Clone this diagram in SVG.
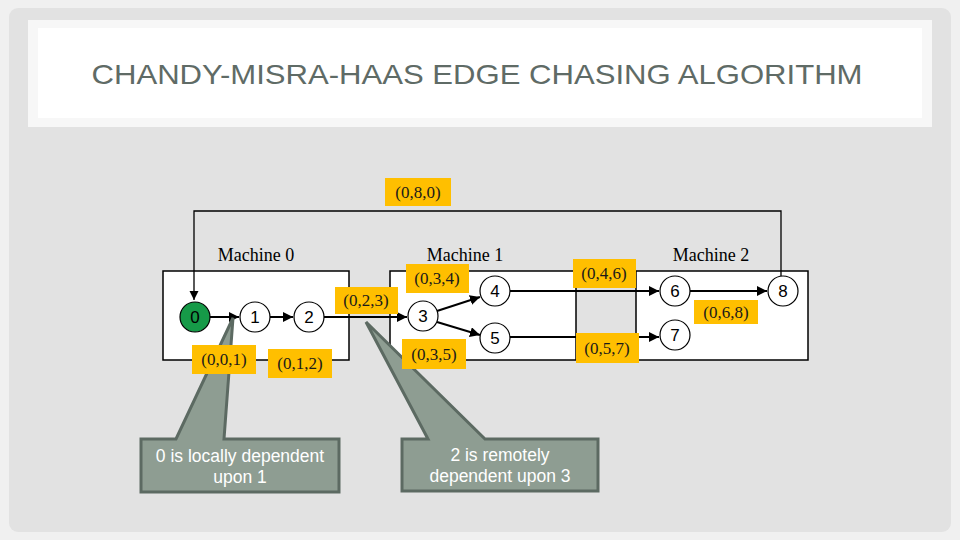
<svg xmlns="http://www.w3.org/2000/svg" width="960" height="540" viewBox="0 0 960 540">
<defs>
<marker id="ah" viewBox="0 0 10 10" refX="10" refY="5" markerWidth="5" markerHeight="5" orient="auto" markerUnits="strokeWidth">
<path d="M0,0 L10,5 L0,10 Z" fill="#000"/>
</marker>
<marker id="ah2" viewBox="0 0 10 10" refX="10" refY="5" markerWidth="7" markerHeight="7" orient="auto" markerUnits="strokeWidth">
<path d="M0,0 L10,5 L0,10 Z" fill="#000"/>
</marker>
</defs>
<style>
.box{fill:#fff;stroke:#000;stroke-width:1.5}
.node{fill:#fff;stroke:#000;stroke-width:1.2}
.num{font-family:"Liberation Sans",Arial,sans-serif;font-size:17px;fill:#000;text-anchor:middle}
.mach{font-family:"Liberation Serif","Times New Roman",serif;font-size:18px;fill:#000;text-anchor:middle}
.lbl rect{fill:#ffbf00}
.lbl text{font-family:"Liberation Serif","Times New Roman",serif;font-size:17px;fill:#1a1a1a;text-anchor:middle}
.edge{fill:none;stroke:#000;stroke-width:2;marker-end:url(#ah)}
.loop{fill:none;stroke:#000;stroke-width:1.3}
.callout path{fill:#8e9d92;stroke:#5c6a62;stroke-width:3;stroke-linejoin:miter}
.callout text{font-family:"Liberation Sans",Arial,sans-serif;font-size:17.5px;fill:#fff;text-anchor:middle}
</style>
<rect x="0" y="0" width="960" height="540" fill="#f0f0f0"/>
<rect x="9" y="8" width="942" height="524" rx="9" fill="#e2e2e2"/>
<rect x="28" y="20" width="904" height="107" fill="#f7f7f7"/>
<rect x="38" y="28" width="884" height="90" fill="#ffffff"/>
<text x="477" y="84" font-family="&quot;Liberation Sans&quot;,Arial,sans-serif" font-size="28" fill="#5f6b66" text-anchor="middle" textLength="771" lengthAdjust="spacingAndGlyphs">CHANDY-MISRA-HAAS EDGE CHASING ALGORITHM</text>

<g id="machine0">
<rect class="box" x="163" y="271" width="186" height="89"/>
<text class="mach" x="256" y="261">Machine 0</text>
</g>
<g id="machine1">
<rect class="box" x="390" y="271" width="186" height="89"/>
<text class="mach" x="465" y="261">Machine 1</text>
</g>
<g id="machine2">
<rect class="box" x="636" y="271" width="172" height="89"/>
<text class="mach" x="711" y="261">Machine 2</text>
</g>

<g id="connectors">
<path class="loop" d="M781,276 L781,211 L194,211 L194,300" marker-end="url(#ah2)"/>
<line class="edge" x1="210" y1="317" x2="239" y2="317"/>
<line class="edge" x1="270" y1="317" x2="293" y2="317"/>
<line class="edge" x1="324" y1="317" x2="407" y2="317"/>
<line class="edge" x1="437" y1="311" x2="480" y2="297"/>
<line class="edge" x1="437" y1="322" x2="480" y2="335"/>
<line class="edge" x1="510" y1="291" x2="659" y2="291"/>
<line class="edge" x1="510" y1="337" x2="659" y2="337"/>
<line class="edge" x1="690" y1="291" x2="767" y2="291"/>
</g>

<g id="n0"><circle cx="195" cy="317" r="15" fill="#169a48" stroke="#000" stroke-width="1.2"/><text class="num" x="195" y="323">0</text></g>
<g id="n1"><circle class="node" cx="255" cy="317" r="15"/><text class="num" x="255" y="323">1</text></g>
<g id="n2"><circle class="node" cx="309" cy="317" r="15"/><text class="num" x="309" y="323">2</text></g>
<g id="n3"><circle class="node" cx="423" cy="316" r="15"/><text class="num" x="423" y="322">3</text></g>
<g id="n4"><circle class="node" cx="495" cy="291" r="15"/><text class="num" x="495" y="297">4</text></g>
<g id="n5"><circle class="node" cx="495" cy="338" r="15"/><text class="num" x="495" y="344">5</text></g>
<g id="n6"><circle class="node" cx="675" cy="291" r="15"/><text class="num" x="675" y="297">6</text></g>
<g id="n7"><circle class="node" cx="675" cy="335" r="15"/><text class="num" x="675" y="341">7</text></g>
<g id="n8"><circle class="node" cx="783" cy="291" r="15"/><text class="num" x="783" y="297">8</text></g>

<g id="callout1" class="callout">
<path d="M141,439 L176,439 L233,318 L224,439 L339,439 L339,492 L141,492 Z"/>
<text x="240" y="462">0 is locally dependent</text>
<text x="240" y="483">upon 1</text>
</g>
<g id="callout2" class="callout">
<path d="M402,439 L428,439 L366,322 L485,439 L598,439 L598,491 L402,491 Z"/>
<text x="500" y="461">2 is remotely</text>
<text x="500" y="482">dependent upon 3</text>
</g>

<g id="l080" class="lbl"><rect x="385" y="178" width="66" height="28"/><text x="418" y="198">(0,8,0)</text></g>
<g id="l001" class="lbl"><rect x="192" y="345" width="64" height="29"/><text x="224" y="365">(0,0,1)</text></g>
<g id="l012" class="lbl"><rect x="268" y="349" width="64" height="29"/><text x="300" y="369">(0,1,2)</text></g>
<g id="l023" class="lbl"><rect x="335" y="287" width="63" height="27"/><text x="366" y="306">(0,2,3)</text></g>
<g id="l034" class="lbl"><rect x="406" y="264" width="63" height="29"/><text x="437" y="284">(0,3,4)</text></g>
<g id="l035" class="lbl"><rect x="402" y="339" width="64" height="30"/><text x="434" y="360">(0,3,5)</text></g>
<g id="l046" class="lbl"><rect x="573" y="259" width="63" height="29"/><text x="604" y="279">(0,4,6)</text></g>
<g id="l057" class="lbl"><rect x="576" y="333" width="63" height="30"/><text x="607" y="354">(0,5,7)</text></g>
<g id="l068" class="lbl"><rect x="694" y="300" width="64" height="24"/><text x="726" y="318">(0,6,8)</text></g>
</svg>
